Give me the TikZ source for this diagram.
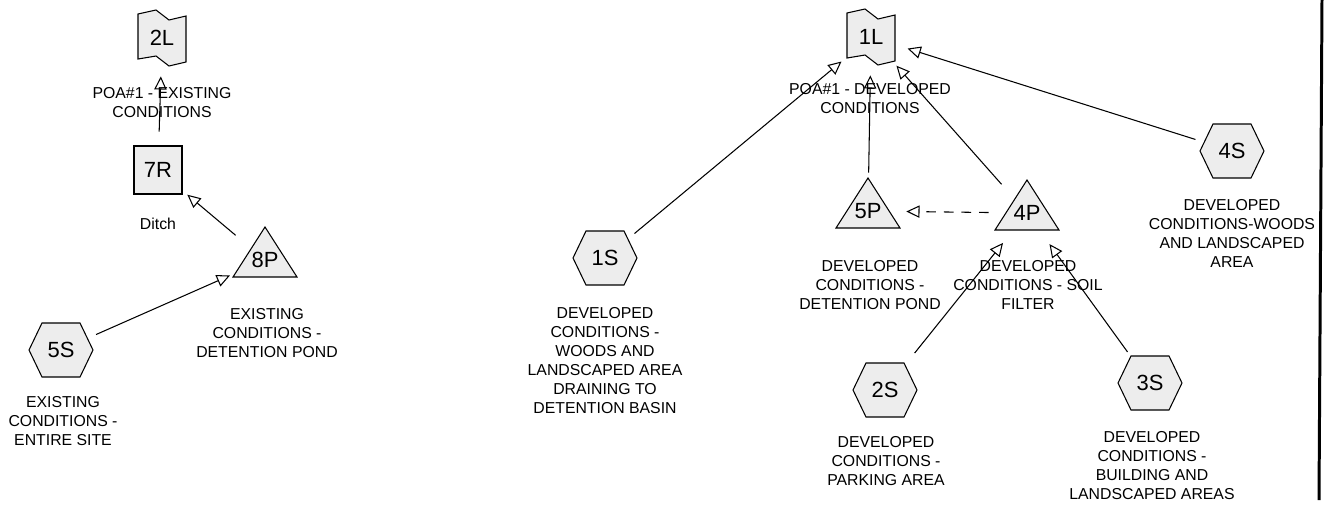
\documentclass[tikz,border=0pt]{standalone}
\usepackage{fontspec}
\setmainfont{Liberation Sans}
\usetikzlibrary{arrows.meta,backgrounds}

\tikzset{
	unit/.style={circle,minimum size=1.52cm,inner sep=0pt,font=\fontsize{12.5}{14}\selectfont},
	outline/.style={fill=black!7,draw,line width=0.6pt},
	txt/.style={font=\fontsize{9}{10.8}\selectfont,inner sep=0pt},
	flow/.style={-{Triangle[open,length=7.5pt,width=7pt]},line width=0.6pt}
}
% outlines drawn round a node's centre
\newcommand\subcatat[1]{\draw[outline,shift={(#1.center)}] (-32,0) -- (-19,-27) -- (19,-27) -- (32,0) -- (19,27) -- (-19,27) -- cycle;}
\newcommand\pondat[1]{\draw[outline,shift={(#1.center)}] (0,-33) -- (32,17) -- (-32,17) -- cycle;}
\newcommand\reachat[1]{\draw[outline,shift={(#1.center)}] (-24,-24) rectangle (24,24);}
\newcommand\linkat[1]{\draw[outline,shift={(#1.center)}] (-24,-24) -- (-6,-28) -- (7,-18) -- (24,-22) -- (24,24) -- (7,28) -- (-6,18) -- (-24,21) -- cycle;}

\begin{document}
\begin{tikzpicture}[x=0.02cm,y=-0.02cm]
	\useasboundingbox (0,0) rectangle (1333,505);
	% existing conditions
	\draw (162,38) node [unit] (2L) {2L};
	\draw (162,104) node [txt] (2L-txt) {\begin{tabular}{c} POA\#1 - EXISTING \\ CONDITIONS \end{tabular}};
	\draw (158,170) node [unit] (7R) {7R};
	\draw (158,224) node [txt] (7R-txt) {Ditch};
	\draw (265,260) node [unit] (8P) {8P};
	\draw (267,335) node [txt] (8P-txt) {\begin{tabular}{c} EXISTING \\ CONDITIONS - \\ DETENTION POND \end{tabular}};
	\draw (61,350) node [unit] (5S) {5S};
	\draw (63,423) node [txt] (5S-txt) {\begin{tabular}{c} EXISTING \\ CONDITIONS - \\ ENTIRE SITE \end{tabular}};
	% developed conditions
	\draw (871,37) node [unit] (1L) {1L};
	\draw (870,100) node [txt] (1L-txt) {\begin{tabular}{c} POA\#1 - DEVELOPED \\ CONDITIONS \end{tabular}};
	\draw (605,258) node [unit] (1S) {1S};
	\draw (605,362) node [txt] (1S-txt) {\begin{tabular}{c} DEVELOPED \\ CONDITIONS - \\ WOODS AND \\ LANDSCAPED AREA \\ DRAINING TO \\ DETENTION BASIN \end{tabular}};
	\draw (868,211) node [unit] (5P) {5P};
	\draw (870,287) node [txt] (5P-txt) {\begin{tabular}{c} DEVELOPED \\ CONDITIONS - \\ DETENTION POND \end{tabular}};
	\draw (1027,213) node [unit] (4P) {4P};
	\draw (1028,287) node [txt] (4P-txt) {\begin{tabular}{c} DEVELOPED \\ CONDITIONS - SOIL \\ FILTER \end{tabular}};
	\draw (1232,151) node [unit] (4S) {4S};
	\draw (1232,235) node [txt] (4S-txt) {\begin{tabular}{c} DEVELOPED \\ CONDITIONS-WOODS \\ AND LANDSCAPED \\ AREA \end{tabular}};
	\draw (885,390) node [unit] (2S) {2S};
	\draw (886,463) node [txt] (2S-txt) {\begin{tabular}{c} DEVELOPED \\ CONDITIONS - \\ PARKING AREA \end{tabular}};
	\draw (1150,383) node [unit] (3S) {3S};
	\draw (1152,467) node [txt] (3S-txt) {\begin{tabular}{c} DEVELOPED \\ CONDITIONS - \\ BUILDING AND \\ LANDSCAPED AREAS \end{tabular}};
	\begin{scope}[on background layer]
		\linkat{2L} \reachat{7R} \pondat{8P} \subcatat{5S}
		\linkat{1L} \subcatat{1S} \pondat{5P} \pondat{4P}
		\subcatat{4S} \subcatat{2S} \subcatat{3S}
	\end{scope}
	\path[flow]
		(7R) edge (2L)
		(8P) edge (7R)
		(5S) edge (8P)
		(1S) edge (1L)
		(5P) edge (1L)
		(4P) edge (1L)
			edge [dashed,dash pattern=on 5.5pt off 4.5pt] (5P)
		(4S) edge (1L)
		(2S) edge [shorten <=0.18cm] (4P)
		(3S) edge (4P);
	% page edge
	\draw [line width=1.7pt] (1322,0) -- (1319,500);
\end{tikzpicture}
\end{document}
